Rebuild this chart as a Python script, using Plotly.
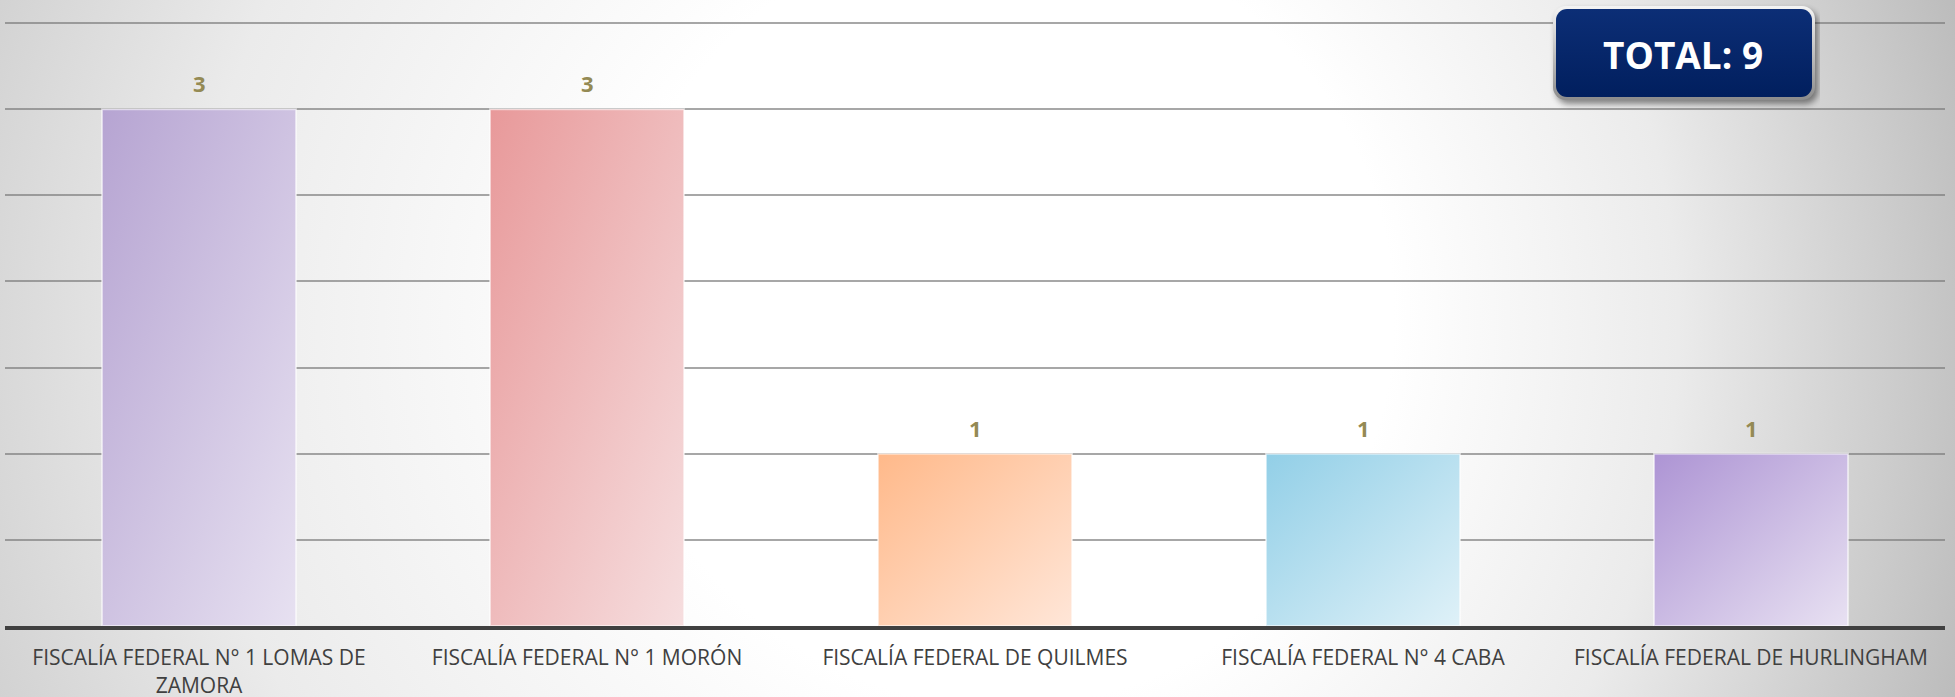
import base64
import textwrap
import plotly.graph_objects as go

# ---------------- data ----------------
categories = [
    "FISCALÍA FEDERAL N° 1 LOMAS DE ZAMORA",
    "FISCALÍA FEDERAL N° 1 MORÓN",
    "FISCALÍA FEDERAL DE QUILMES",
    "FISCALÍA FEDERAL N° 4 CABA",
    "FISCALÍA FEDERAL DE HURLINGHAM",
]
values = [3, 3, 1, 1, 1]
y_grid_top = 3.5
y_step = 0.5

# ---------------- style ----------------
color_dark = ["#b6a4d2", "#e8999a", "#ffb98a", "#92cfe7", "#ad94d4"]
color_light = ["#e7e1f1", "#f6dedf", "#ffe6d8", "#dff1f8", "#e8e1f2"]
color_mid = ["#cec2e2", "#efbcbd", "#ffcfb1", "#b8e0f0", "#cbbbe3"]

W, H = 1955, 697
ML, MR, MT, MB = 5, 10, 18, 71
PW, PH = W - ML - MR, H - MT - MB
Y_TOP_PX = 23.1  # pixel row of the top gridline
y_range_top = y_grid_top * (H - MB - MT) / (H - MB - Y_TOP_PX)


def px_x(px):
    return (px - ML) / PW


def px_y(py):
    return 1 - (py - MT) / PH


def svg_uri(svg):
    return "data:image/svg+xml;base64," + base64.b64encode(svg.encode("utf-8")).decode("ascii")


bg_svg = f"""<svg xmlns="http://www.w3.org/2000/svg" width="{W}" height="{H}" viewBox="0 0 {W} {H}" preserveAspectRatio="none">
<defs><radialGradient id="g" gradientUnits="userSpaceOnUse" cx="850" cy="350" r="1180" fx="1080" fy="300">
<stop offset="0" stop-color="#ffffff"/><stop offset="0.33" stop-color="#ffffff"/>
<stop offset="0.63" stop-color="#ebebeb"/><stop offset="1" stop-color="#b9b9b9"/>
</radialGradient></defs>
<rect x="0" y="0" width="{W}" height="{H}" fill="url(#g)"/></svg>"""

box_svg = """<svg xmlns="http://www.w3.org/2000/svg" width="272" height="110" viewBox="0 0 272 110" preserveAspectRatio="none">
<defs>
<filter id="s" x="-20%" y="-20%" width="140%" height="140%"><feGaussianBlur stdDeviation="3"/></filter>
<linearGradient id="b" x1="0" y1="0" x2="0" y2="1"><stop offset="0" stop-color="#f4f4f4"/><stop offset="1" stop-color="#8c8c8c"/></linearGradient>
<linearGradient id="f" x1="0" y1="0" x2="0" y2="1"><stop offset="0" stop-color="#0c2e76"/><stop offset="1" stop-color="#011f5e"/></linearGradient>
</defs>
<rect x="8" y="9" width="262" height="94" rx="13" fill="#000" opacity="0.45" filter="url(#s)"/>
<rect x="5" y="5" width="262" height="94" rx="13" fill="url(#b)"/>
<rect x="8" y="8" width="256" height="88" rx="11" fill="url(#f)"/>
</svg>"""


def bar_svg(c0, c1):
    return f"""<svg xmlns="http://www.w3.org/2000/svg" width="100" height="100" viewBox="0 0 100 100" preserveAspectRatio="none">
<defs><linearGradient id="g" x1="0" y1="0" x2="1" y2="1"><stop offset="0" stop-color="{c0}"/><stop offset="1" stop-color="{c1}"/></linearGradient></defs>
<rect x="0" y="0" width="100" height="100" fill="url(#g)"/></svg>"""


xs = list(range(len(categories)))
bar_w = 0.5
ticktext = [textwrap.fill(c, width=30).replace("\n", "<br>") for c in categories]

fig = go.Figure()
fig.add_trace(go.Bar(
    x=xs, y=values, width=bar_w,
    marker=dict(color=color_mid, line=dict(width=0)),
    hoverinfo="x+y", showlegend=False,
))

images = [dict(
    source=svg_uri(bg_svg), xref="paper", yref="paper",
    x=px_x(0), y=px_y(0), sizex=px_x(W) - px_x(0), sizey=px_y(0) - px_y(H),
    xanchor="left", yanchor="top", sizing="stretch", layer="below",
)]
shapes = []
annotations = []
for i, v in enumerate(values):
    images.append(dict(
        source=svg_uri(bar_svg(color_dark[i], color_light[i])), xref="x", yref="y",
        x=xs[i] - bar_w / 2, y=v, sizex=bar_w, sizey=v,
        xanchor="left", yanchor="top", sizing="stretch", layer="above",
    ))
    shapes.append(dict(
        type="rect", xref="x", yref="y", layer="above",
        x0=xs[i] - bar_w / 2, x1=xs[i] + bar_w / 2, y0=0, y1=v,
        line=dict(color="rgba(255,255,255,0.55)", width=2), fillcolor="rgba(0,0,0,0)",
    ))
    annotations.append(dict(
        x=xs[i], y=v, xref="x", yref="y", text=str(v), showarrow=False,
        yanchor="middle", yshift=26,
        font=dict(family="Open Sans", size=22, color="#948a54", weight="bold"),
    ))

images.append(dict(
    source=svg_uri(box_svg), xref="paper", yref="paper",
    x=px_x(1548), y=px_y(1), sizex=272 / PW, sizey=110 / PH,
    xanchor="left", yanchor="top", sizing="stretch", layer="above",
))
annotations.append(dict(
    x=px_x(1683), y=px_y(54), xref="paper", yref="paper",
    text=f"TOTAL: {sum(values)}", showarrow=False, xanchor="center", yanchor="middle",
    font=dict(family="Open Sans", size=37, color="#ffffff", weight="bold"),
))

fig.update_layout(
    width=W, height=H,
    margin=dict(l=ML, r=MR, t=MT, b=MB, autoexpand=False),
    paper_bgcolor="#d8d8d8", plot_bgcolor="rgba(0,0,0,0)",
    images=images, shapes=shapes, annotations=annotations,
    bargap=0.5,
    xaxis=dict(
        range=[-0.5, len(categories) - 0.5], tickvals=xs, ticktext=ticktext,
        showgrid=False, zeroline=False, showline=True, linecolor="#404040", linewidth=4,
        ticks="", ticklabelstandoff=10, automargin=False,
        tickfont=dict(family="Open Sans", size=21, color="#404040"),
        fixedrange=True,
    ),
    yaxis=dict(
        range=[0, y_range_top], tick0=0, dtick=y_step, showticklabels=False, zeroline=False,
        showgrid=True, gridcolor="rgba(120,120,120,0.65)", gridwidth=1.5, showline=False,
        automargin=False, fixedrange=True,
    ),
)

fig.write_html(
    "out.html",
    config={"displayModeBar": False},
    post_script="document.body.style.margin='0';document.body.style.overflow='hidden';",
)
